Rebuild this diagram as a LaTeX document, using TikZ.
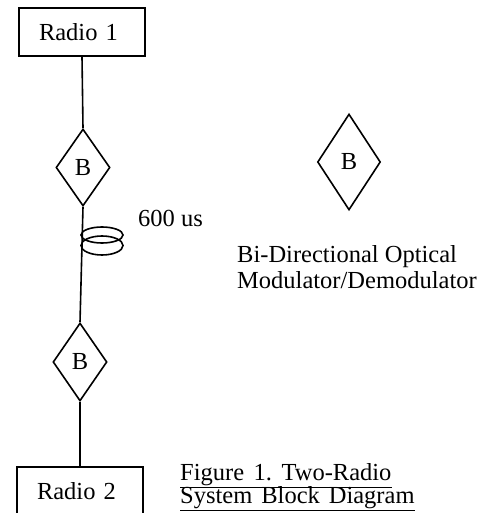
\documentclass[tikz,border=0pt]{standalone}
\usepackage{fontspec}
\setmainfont{Liberation Serif}
\usetikzlibrary{shapes.geometric}
\begin{document}
\begin{tikzpicture}[x=1pt,y=-1pt,
  every node/.style={font=\fontsize{24.5}{27}\selectfont},
  radiobox/.style={draw,line width=1.6pt,rectangle,text width=86pt,align=left,inner xsep=20pt,inner ysep=0pt,minimum height=48pt},
  bdiamond/.style={draw,line width=1.6pt,diamond,inner sep=0pt},
  wire/.style={line width=1.6pt},
  lbl/.style={anchor=base west,inner sep=0pt},
  uline/.style={line width=1.5pt}]
\useasboundingbox (0,0) rectangle (491,513);
\node[radiobox] (r1) at (82,32) {Radio 1};
\node[bdiamond,minimum width=54pt,minimum height=77pt] (d1) at (83,167.5) {\raisebox{-1.5pt}{B}};
\node[bdiamond,minimum width=54pt,minimum height=78pt] (d2) at (80,362) {\raisebox{-1.5pt}{B}};
\node[radiobox] (r2) at (80,491) {Radio 2};
\node[bdiamond,minimum width=63pt,minimum height=96pt] (d3) at (349,162) {B};
\draw[wire] (r1.south) -- (d1.north);
\draw[wire] (d1.south) -- (d2.north);
\draw[wire] (d2.south) -- (r2.north);
% fibre coil
\draw[wire] (102,235) ellipse [x radius=21, y radius=8];
\draw[wire] (102,245.5) ellipse [x radius=21, y radius=9.5];
\node[lbl] (delay) at (138,226) {600 us};
\node[lbl] (leg1) at (237,262) {Bi-Directional Optical};
\node[lbl] (leg2) at (237,288) {Modulator/Demodulator};
\node[lbl] (cap1) at (180,480) {\frenchspacing\spaceskip=9.5pt\relax Figure 1. Two-Radio};
\node[lbl] (cap2) at (180,503) {\frenchspacing\spaceskip=9pt\relax System Block Diagram};
\draw[uline] ([yshift=-7.5pt]cap1.base west) -- ([yshift=-7.5pt]cap1.base east);
\draw[uline] ([yshift=-7.5pt]cap2.base west) -- ([yshift=-7.5pt]cap2.base east);
\end{tikzpicture}
\end{document}
